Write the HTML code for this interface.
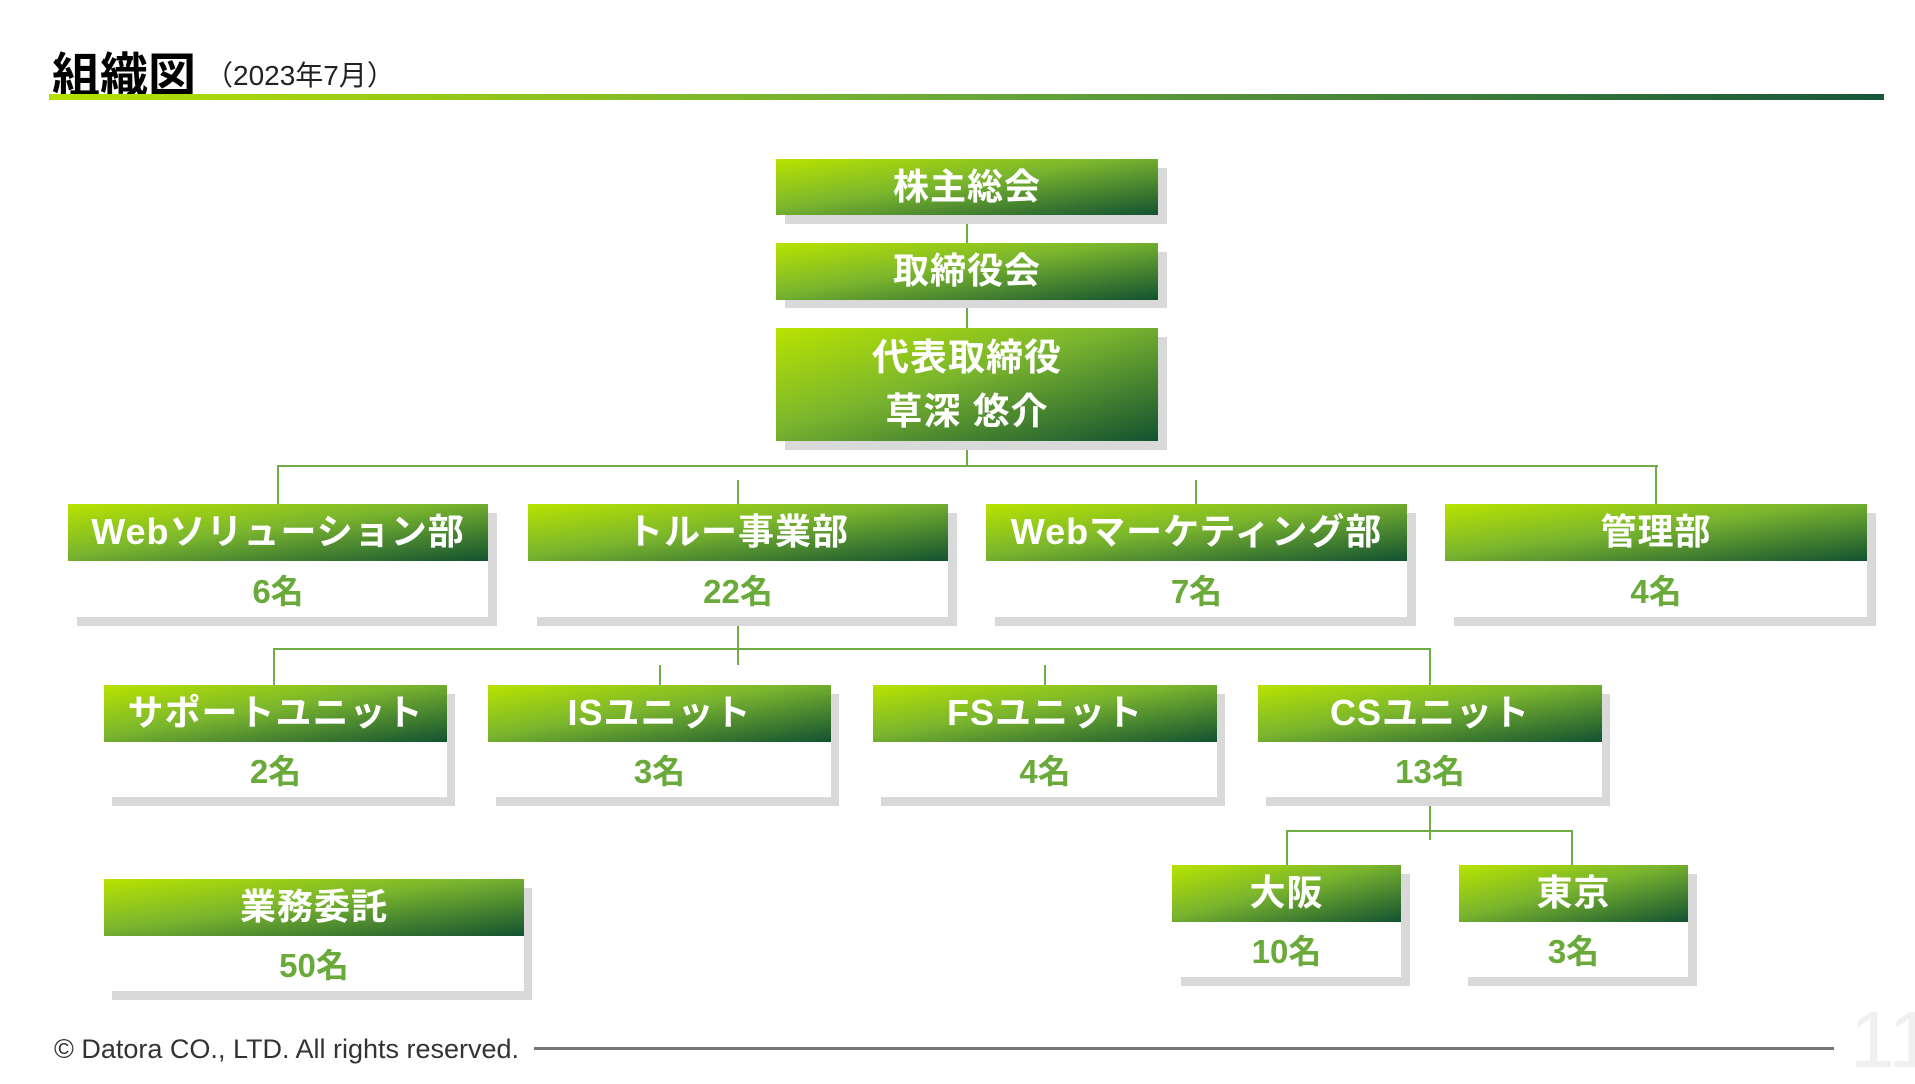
<!DOCTYPE html>
<html><head><meta charset="utf-8"><style>
*{margin:0;padding:0;box-sizing:border-box}
body{width:1915px;height:1070px;background:#fff;position:relative;overflow:hidden;font-family:"Liberation Sans","Noto Sans CJK JP",sans-serif}
.a{position:absolute}
.sh{position:absolute;background:#d9d9d9}
.hd{position:absolute;background:linear-gradient(to bottom right,#b8e300 0%,#7ab52e 45%,#135231 100%);color:#fff;font-weight:bold;font-size:36px;display:flex;align-items:center;justify-content:center;text-align:center;line-height:1.35;letter-spacing:1px}
.bd{position:absolute;background:#fff;color:#6aaa3a;font-weight:bold;font-size:33px;display:flex;align-items:center;justify-content:center}
.l{position:absolute;background:#70ad47}
</style></head><body>
<div class="a" style="left:52px;top:36px;font-size:48px;font-weight:bold;color:#000">組織図</div>
<div class="a" style="left:205px;top:54px;font-size:28px;color:#222">（2023年7月）</div>
<div class="a" style="left:49px;top:94px;width:1835px;height:6px;background:linear-gradient(to right,#b5e000,#6aa83a 50%,#17563a)"></div>

<!-- connectors -->
<div class="l" style="left:966px;top:215px;width:2px;height:250px"></div>
<div class="l" style="left:277px;top:465px;width:1381px;height:2px"></div>
<div class="l" style="left:277px;top:465px;width:2px;height:40px"></div>
<div class="l" style="left:737px;top:480px;width:2px;height:25px"></div>
<div class="l" style="left:1195px;top:480px;width:2px;height:25px"></div>
<div class="l" style="left:1655px;top:465px;width:2px;height:40px"></div>
<div class="l" style="left:737px;top:625px;width:2px;height:40px"></div>
<div class="l" style="left:273px;top:648px;width:1158px;height:2px"></div>
<div class="l" style="left:273px;top:648px;width:2px;height:38px"></div>
<div class="l" style="left:659px;top:665px;width:2px;height:21px"></div>
<div class="l" style="left:1044px;top:665px;width:2px;height:21px"></div>
<div class="l" style="left:1429px;top:648px;width:2px;height:38px"></div>
<div class="l" style="left:1429px;top:806px;width:2px;height:34px"></div>
<div class="l" style="left:1286px;top:830px;width:287px;height:2px"></div>
<div class="l" style="left:1286px;top:830px;width:2px;height:36px"></div>
<div class="l" style="left:1571px;top:830px;width:2px;height:36px"></div>

<!-- top -->
<div class="sh" style="left:785px;top:168px;width:382px;height:56px"></div>
<div class="hd" style="left:776px;top:159px;width:382px;height:56px">株主総会</div>
<div class="sh" style="left:785px;top:252px;width:382px;height:56px"></div>
<div class="hd" style="left:776px;top:243px;width:382px;height:57px">取締役会</div>
<div class="sh" style="left:785px;top:337px;width:382px;height:113px"></div>
<div class="hd" style="left:776px;top:328px;width:382px;height:113px;font-size:37px;line-height:1.45">代表取締役<br>草深 悠介</div>

<!-- depts -->
<div class="sh" style="left:77px;top:513px;width:420px;height:113px"></div>
<div class="bd" style="left:68px;top:560px;width:420px;height:57px">6名</div>
<div class="hd" style="left:68px;top:504px;width:420px;height:57px">Webソリューション部</div>
<div class="sh" style="left:537px;top:513px;width:420px;height:113px"></div>
<div class="bd" style="left:528px;top:560px;width:420px;height:57px">22名</div>
<div class="hd" style="left:528px;top:504px;width:420px;height:57px">トルー事業部</div>
<div class="sh" style="left:995px;top:513px;width:421px;height:113px"></div>
<div class="bd" style="left:986px;top:560px;width:421px;height:57px">7名</div>
<div class="hd" style="left:986px;top:504px;width:421px;height:57px">Webマーケティング部</div>
<div class="sh" style="left:1454px;top:513px;width:422px;height:113px"></div>
<div class="bd" style="left:1445px;top:560px;width:422px;height:57px">4名</div>
<div class="hd" style="left:1445px;top:504px;width:422px;height:57px">管理部</div>

<!-- units -->
<div class="sh" style="left:112px;top:694px;width:343px;height:112px"></div>
<div class="bd" style="left:104px;top:741px;width:343px;height:56px">2名</div>
<div class="hd" style="left:104px;top:685px;width:343px;height:57px">サポートユニット</div>
<div class="sh" style="left:496px;top:694px;width:343px;height:112px"></div>
<div class="bd" style="left:488px;top:741px;width:343px;height:56px">3名</div>
<div class="hd" style="left:488px;top:685px;width:343px;height:57px">ISユニット</div>
<div class="sh" style="left:881px;top:694px;width:344px;height:112px"></div>
<div class="bd" style="left:873px;top:741px;width:344px;height:56px">4名</div>
<div class="hd" style="left:873px;top:685px;width:344px;height:57px">FSユニット</div>
<div class="sh" style="left:1266px;top:694px;width:344px;height:112px"></div>
<div class="bd" style="left:1258px;top:741px;width:344px;height:56px">13名</div>
<div class="hd" style="left:1258px;top:685px;width:344px;height:57px">CSユニット</div>

<!-- gyomu -->
<div class="sh" style="left:112px;top:888px;width:420px;height:112px"></div>
<div class="bd" style="left:104px;top:935px;width:420px;height:56px">50名</div>
<div class="hd" style="left:104px;top:879px;width:420px;height:57px">業務委託</div>

<!-- osaka tokyo -->
<div class="sh" style="left:1181px;top:874px;width:229px;height:112px"></div>
<div class="bd" style="left:1172px;top:921px;width:229px;height:56px">10名</div>
<div class="hd" style="left:1172px;top:865px;width:229px;height:57px">大阪</div>
<div class="sh" style="left:1468px;top:874px;width:229px;height:112px"></div>
<div class="bd" style="left:1459px;top:921px;width:229px;height:56px">3名</div>
<div class="hd" style="left:1459px;top:865px;width:229px;height:57px">東京</div>

<!-- footer -->
<div class="a" style="left:54px;top:1034px;font-size:27px;color:#333;white-space:nowrap">© Datora CO., LTD. All rights reserved.</div>
<div class="a" style="left:534px;top:1047px;width:1300px;height:3px;background:#777"></div>
<div class="a" style="left:1850px;top:1000px;font-size:80px;color:#f0f0f0;line-height:1">11</div>
</body></html>
